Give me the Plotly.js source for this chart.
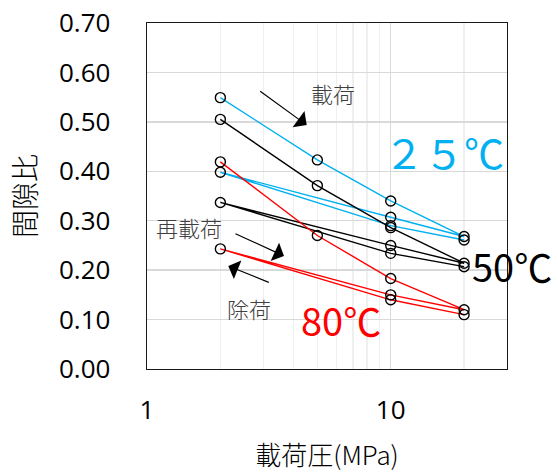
<!DOCTYPE html>
<html>
<head>
<meta charset="utf-8">
<script src="https://cdn.plot.ly/plotly-3.0.1.min.js"></script>
<style>html,body{margin:0;padding:0;background:#fff;}#chart{width:558px;height:472px;}</style>
</head>
<body>
<div id="chart"></div>
<script>
// Loading pressure path (MPa): load 2→5→10→20, unload 20→10→2, reload 2→10→20
const pressure = [2, 5, 10, 20, 10, 2, 10, 20];
const voidRatio25 = [0.549, 0.423, 0.340, 0.268, 0.307, 0.398, 0.290, 0.261];
const voidRatio50 = [0.505, 0.371, 0.286, 0.214, 0.250, 0.337, 0.234, 0.207];
const voidRatio80 = [0.419, 0.270, 0.183, 0.120, 0.150, 0.243, 0.140, 0.110];
const seriesNames = ['25℃', '50℃', '80℃'];
const seriesColors = ['#00b0f0', '#000000', '#ff0000'];
const yTickVals = [0, 0.1, 0.2, 0.3, 0.4, 0.5, 0.6, 0.7];
const yTickText = ['0.00', '0.10', '0.20', '0.30', '0.40', '0.50', '0.60', '0.70'];
const xTickVals = [1, 10];
const xTickText = ['1', '10'];
const xMinorVals = [2, 3, 4, 5, 6, 7, 8, 9, 20, 30];

const tickFont = {family: 'Open Sans, Liberation Sans, sans-serif', size: 26, color: '#000'};
const jp = 'Noto Sans CJK JP, sans-serif';

const allY = [voidRatio25, voidRatio50, voidRatio80];
const traces = allY.map((ys, i) => ({
  type: 'scatter',
  mode: 'lines+markers',
  name: seriesNames[i],
  x: pressure,
  y: ys,
  line: {color: seriesColors[i], width: 1.4},
  marker: {symbol: 'circle-open', size: 10, color: '#000', line: {width: 1.4}},
  showlegend: false
}));

const layout = {
  width: 558,
  height: 472,
  margin: {l: 147, r: 51, t: 23, b: 103},
  paper_bgcolor: '#fff',
  plot_bgcolor: '#fff',
  showlegend: false,
  xaxis: {
    type: 'log',
    range: [0, Math.log10(30)],
    tickvals: xTickVals,
    ticktext: xTickText,
    ticks: '',
    tickfont: tickFont,
    ticklabelstandoff: 17,
    showgrid: true,
    gridcolor: '#d9d9d9',
    gridwidth: 1.3,
    minor: {tickvals: xMinorVals, showgrid: true, gridcolor: '#efefef', gridwidth: 1.3, ticks: ''},
    showline: true,
    mirror: true,
    linecolor: '#1a1a1a',
    linewidth: 1.4,
    zeroline: false,
    title: {text: '載荷圧(MPa)', font: {family: jp, size: 26, color: '#000', weight: 300}, standoff: 28}
  },
  yaxis: {
    range: [0, 0.7],
    tickvals: yTickVals,
    ticktext: yTickText,
    ticks: '',
    tickfont: tickFont,
    ticklabelstandoff: 30,
    showgrid: true,
    gridcolor: '#d9d9d9',
    gridwidth: 1.3,
    showline: true,
    mirror: true,
    linecolor: '#1a1a1a',
    linewidth: 1.4,
    zeroline: false,
    title: {text: '間隙比', font: {family: jp, size: 28, color: '#000', weight: 300}, standoff: 14}
  },
  annotations: [
    {xref: 'paper', yref: 'paper', x: 0.825, y: 0.627, text: '２５℃', showarrow: false,
     font: {family: jp, size: 40, color: '#00b0f0'}, xanchor: 'center', yanchor: 'middle'},
    {xref: 'paper', yref: 'paper', x: 1.014, y: 0.298, text: '50℃', showarrow: false,
     font: {family: jp, size: 38, color: '#000'}, xanchor: 'center', yanchor: 'middle'},
    {xref: 'paper', yref: 'paper', x: 0.540, y: 0.1445, text: '80℃', showarrow: false,
     font: {family: jp, size: 38, color: '#ff0000'}, xanchor: 'center', yanchor: 'middle'},
    {xref: 'paper', yref: 'paper', x: 0.517, y: 0.798, text: '載荷', showarrow: false,
     font: {family: jp, size: 22, color: '#404040', weight: 300}, xanchor: 'center', yanchor: 'middle'},
    {xref: 'paper', yref: 'paper', x: 0.117, y: 0.410, text: '再載荷', showarrow: false,
     font: {family: jp, size: 22, color: '#404040', weight: 300}, xanchor: 'center', yanchor: 'middle'},
    {xref: 'paper', yref: 'paper', x: 0.282, y: 0.176, text: '除荷', showarrow: false,
     font: {family: jp, size: 22, color: '#404040', weight: 300}, xanchor: 'center', yanchor: 'middle'},
    {xref: 'paper', yref: 'paper', x: 0.4436, y: 0.705, text: '', showarrow: true,
     ax: -48, ay: -35, arrowhead: 1, arrowsize: 2.8, arrowwidth: 1.2, arrowcolor: '#000', standoff: 0},
    {xref: 'paper', yref: 'paper', x: 0.3806, y: 0.3266, text: '', showarrow: true,
     ax: -50, ay: -23, arrowhead: 1, arrowsize: 2.8, arrowwidth: 1.2, arrowcolor: '#000', standoff: 0},
    {xref: 'paper', yref: 'paper', x: 0.2258, y: 0.2977, text: '', showarrow: true,
     ax: 42, ay: 17, arrowhead: 1, arrowsize: 2.8, arrowwidth: 1.2, arrowcolor: '#000', standoff: 0}
  ]
};

Plotly.newPlot('chart', traces, layout, {displayModeBar: false, staticPlot: true});
</script>
</body>
</html>
